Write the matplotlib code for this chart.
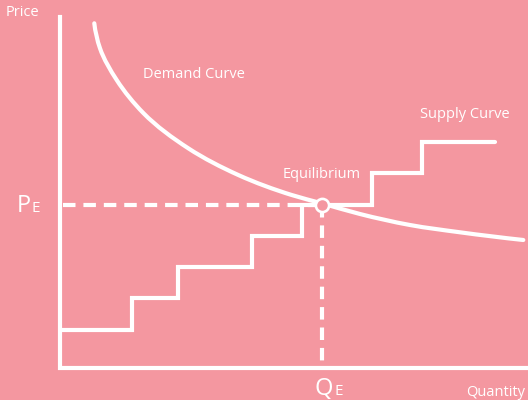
import matplotlib
matplotlib.use("Agg")
import math
import matplotlib.pyplot as plt
from matplotlib.path import Path
from matplotlib.patches import PathPatch

# Data (arbitrary units; origin at the axes corner)
demand_q = [34.3, 40.0, 56.7, 83.3, 128.3, 178.3, 231.7, 261.7, 300.0, 350.0, 400.0, 463.3]
demand_p = [344.7, 319.7, 288.0, 255.0, 219.7, 193.0, 173.0, 164.7, 154.0, 143.0, 135.7, 128.0]

supply_q = [0, 72, 118, 192, 242, 312, 362, 435]      # step breakpoints
supply_p = [38, 70, 101, 132, 163, 195, 226]          # price level of each step

eq_q, eq_p = 261.7, 163

BG = "#F497A0"
WHITE = "#FFFFFF"
FONT = ["Open Sans", "DejaVu Sans"]

fig = plt.figure(figsize=(5.28, 4.0), dpi=100, facecolor=BG)
ax = fig.add_axes([0, 0, 1, 1])
ax.set_facecolor(BG)
ax.set_xlim(-60, 468)
ax.set_ylim(-32, 368)
ax.axis("off")

# Axes lines
ax.plot([0, 0, 467], [351, 0, 0], color=WHITE, lw=3, solid_capstyle="projecting",
        solid_joinstyle="miter")

# Supply step curve
sx, sy = [], []
for i, p in enumerate(supply_p):
    sx += [supply_q[i], supply_q[i + 1]]
    sy += [p, p]
ax.plot(sx, sy, color=WHITE, lw=3, solid_capstyle="round", solid_joinstyle="miter")


# Demand curve: smooth parametric cubic through the read points
def tangents(vals, h):
    n = len(vals)
    d = [(vals[i + 1] - vals[i]) / h[i] for i in range(n - 1)]
    m = [0.0] * n
    for i in range(1, n - 1):
        m[i] = (h[i - 1] * d[i] + h[i] * d[i - 1]) / (h[i - 1] + h[i])
    m[0] = ((2 * h[0] + h[1]) * d[0] - h[0] * d[1]) / (h[0] + h[1])
    m[-1] = ((2 * h[-1] + h[-2]) * d[-1] - h[-1] * d[-2]) / (h[-1] + h[-2])
    return m


n = len(demand_q)
h = [math.hypot(demand_q[i + 1] - demand_q[i], demand_p[i + 1] - demand_p[i])
     for i in range(n - 1)]
mx = tangents(demand_q, h)
my = tangents(demand_p, h)
verts = [(demand_q[0], demand_p[0])]
codes = [Path.MOVETO]
for i in range(n - 1):
    k = h[i] / 3.0
    verts += [(demand_q[i] + mx[i] * k, demand_p[i] + my[i] * k),
              (demand_q[i + 1] - mx[i + 1] * k, demand_p[i + 1] - my[i + 1] * k),
              (demand_q[i + 1], demand_p[i + 1])]
    codes += [Path.CURVE4, Path.CURVE4, Path.CURVE4]
ax.add_patch(PathPatch(Path(verts, codes), facecolor="none", edgecolor=WHITE,
                       lw=3, capstyle="round", joinstyle="round"))

# Dashed guides
ax.plot([3, eq_q], [eq_p, eq_p], color=WHITE, lw=3, dashes=(3.0, 1.9),
        solid_capstyle="butt")
ax.plot([eq_q, eq_q], [eq_p, 0], color=WHITE, lw=3, dashes=(3.0, 1.9),
        solid_capstyle="butt")

# Equilibrium marker
ax.plot([eq_q], [eq_p], marker="o", markersize=9.5, markerfacecolor=BG,
        markeredgecolor=WHITE, markeredgewidth=1.9, zorder=5)

# Labels
kw = dict(color=WHITE, family=FONT, va="center", ha="left")
ax.text(-54, 355, "Price", fontsize=10.5, **kw)
ax.text(406, -25, "Quantity", fontsize=10.5, **kw)
ax.text(83, 293, "Demand Curve", fontsize=10.5, **kw)
ax.text(360, 253, "Supply Curve", fontsize=10.5, **kw)
ax.text(223, 193, "Equilibrium", fontsize=10.5, **kw)

ax.text(-43, 156, "P", fontsize=17, color=WHITE, family=FONT, ha="left",
        va="baseline")
ax.text(-29, 156, "E", fontsize=11, color=WHITE, family=FONT, ha="left",
        va="baseline")
ax.text(254, -27, "Q", fontsize=17, color=WHITE, family=FONT, ha="left",
        va="baseline")
ax.text(274, -27, "E", fontsize=11, color=WHITE, family=FONT, ha="left",
        va="baseline")

fig.savefig("out.png", dpi=100, facecolor=BG)
